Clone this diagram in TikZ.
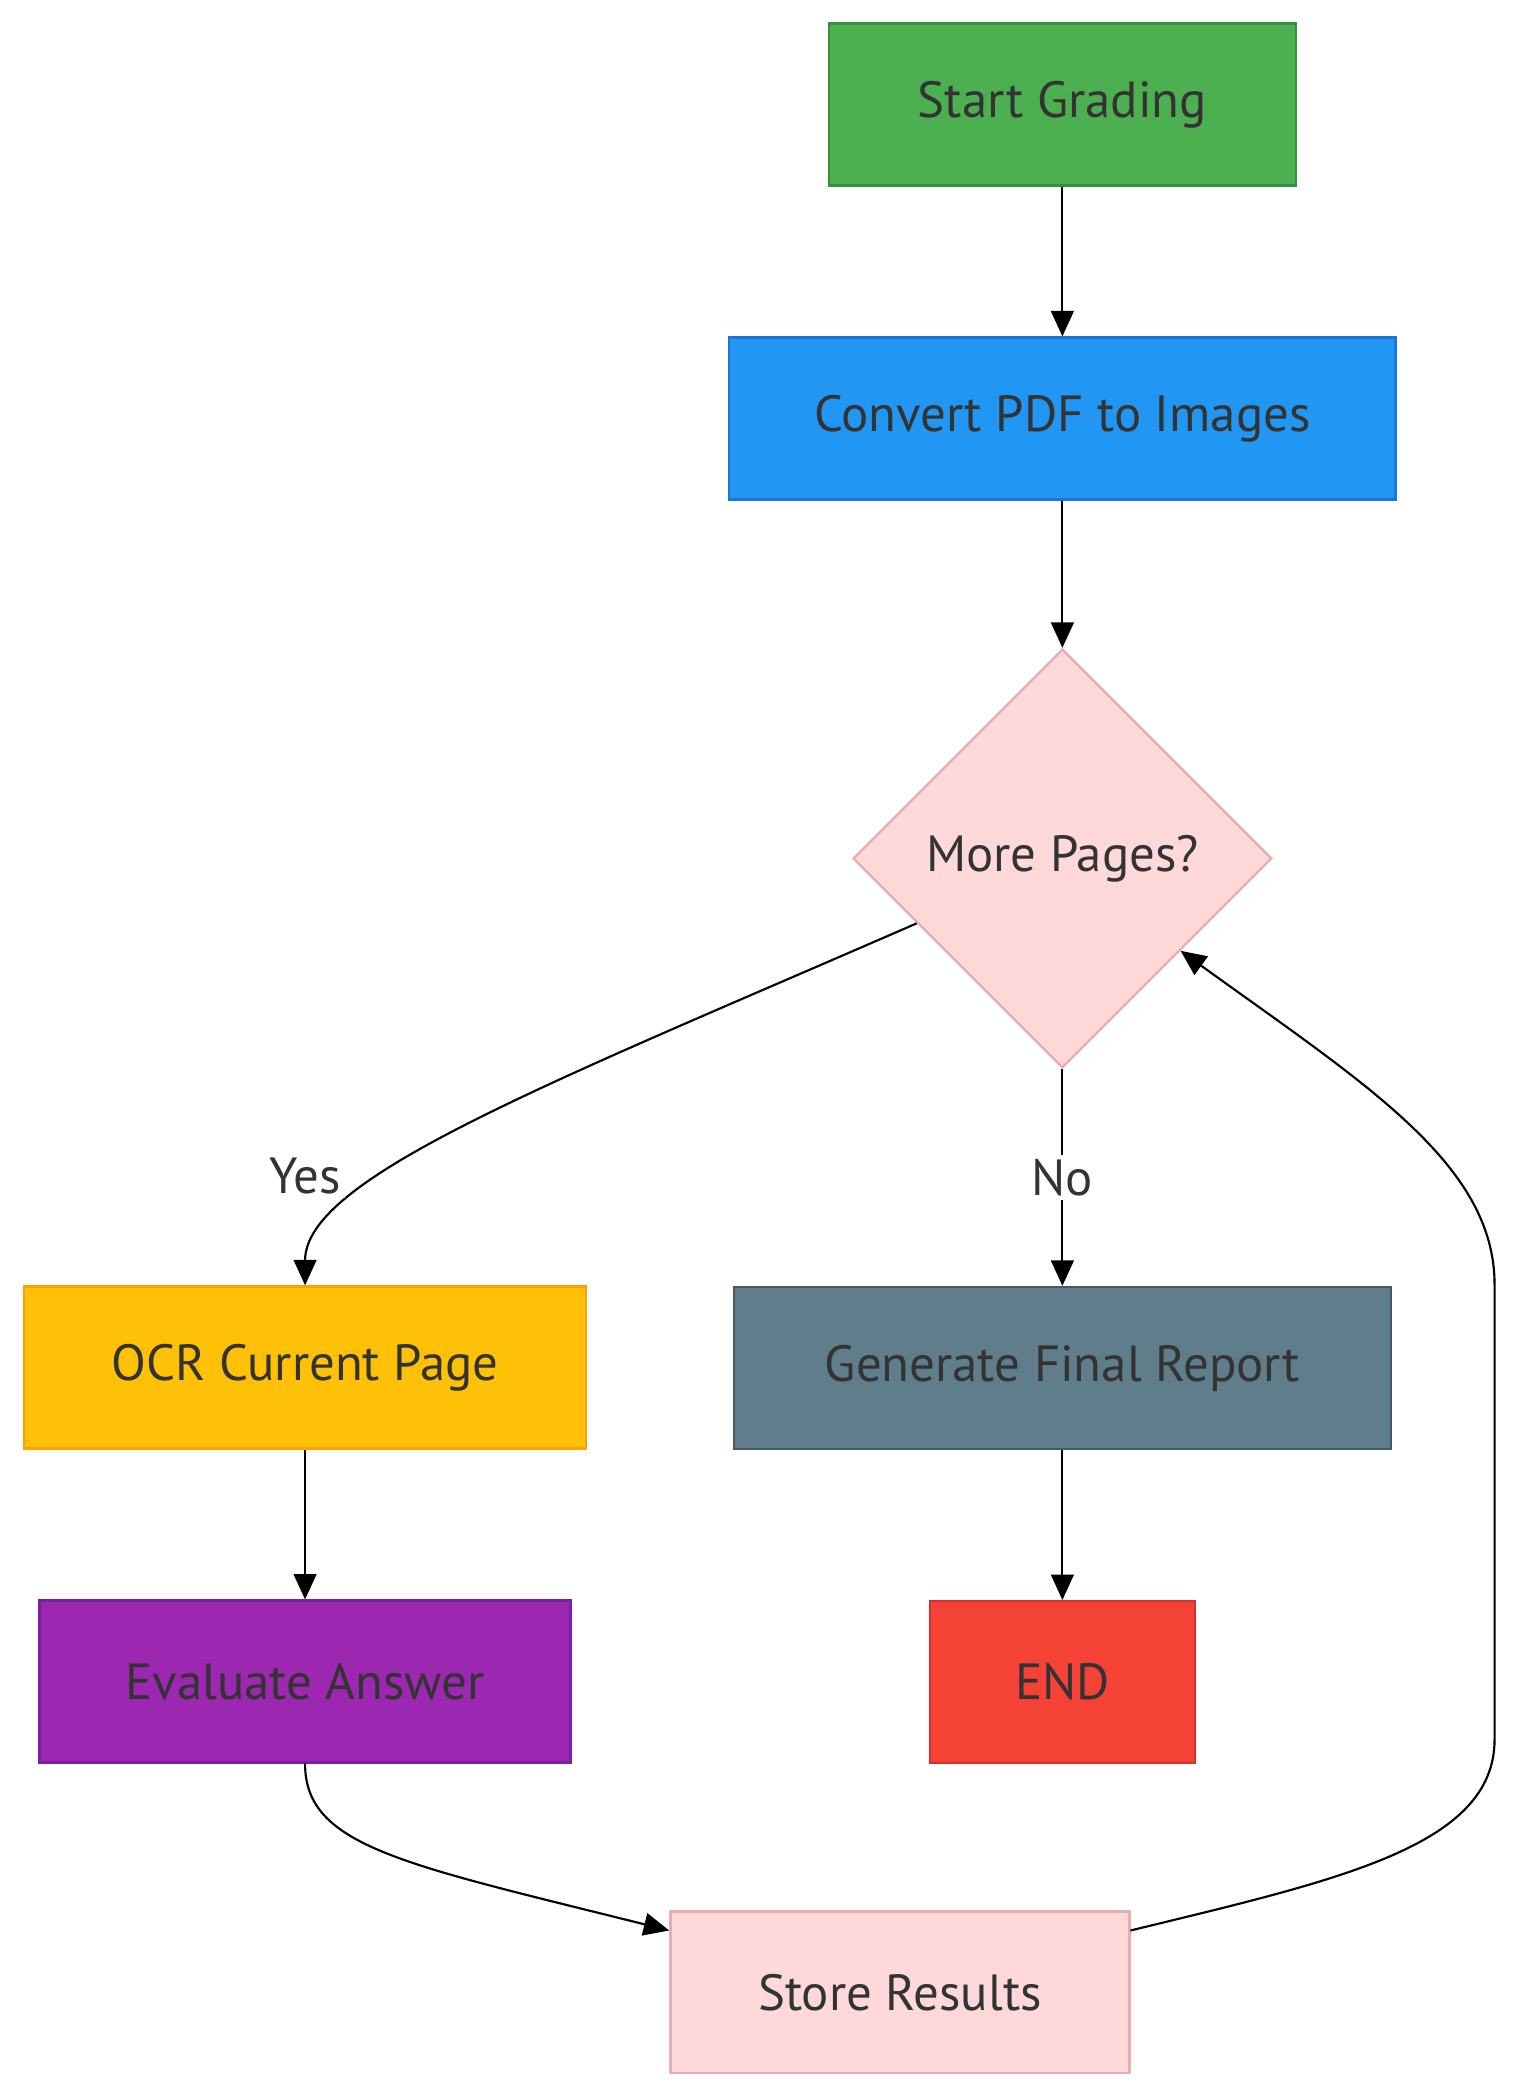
\documentclass[tikz,border=0pt]{standalone}
\usepackage{fontspec}
\setmainfont{PT Sans}
\usetikzlibrary{shapes.geometric, arrows.meta, positioning}

\definecolor{txtgray}{HTML}{333333}
\definecolor{greenfill}{HTML}{4CAF50}
\definecolor{greenline}{HTML}{388E3C}
\definecolor{bluefill}{HTML}{2196F3}
\definecolor{blueline}{HTML}{1976D2}
\definecolor{pinkfill}{HTML}{FFD9D9}
\definecolor{pinkline}{HTML}{E8AEAE}
\definecolor{amberfill}{HTML}{FFC107}
\definecolor{amberline}{HTML}{FFA000}
\definecolor{slatefill}{HTML}{607D8B}
\definecolor{slateline}{HTML}{455A64}
\definecolor{purplefill}{HTML}{9C27B0}
\definecolor{purpleline}{HTML}{7B1FA2}
\definecolor{redfill}{HTML}{F44336}
\definecolor{redline}{HTML}{D32F2F}

\begin{document}
\begin{tikzpicture}[
        x=0.5pt, y=-0.5pt,
        node distance=56pt,
        every node/.style={font=\fontsize{19}{22}\selectfont, text=txtgray},
        box/.style={rectangle, minimum height=60.5pt, text centered, line width=0.9pt},
        startbox/.style={box, minimum width=174.5pt, draw=greenline, fill=greenfill},
        convertbox/.style={box, minimum width=249pt, draw=blueline, fill=bluefill},
        decisionbox/.style={diamond, aspect=1, inner sep=0pt, minimum width=156.5pt, minimum height=156.5pt, text centered, line width=0.9pt, draw=pinkline, fill=pinkfill},
        ocrbox/.style={box, minimum width=210pt, draw=amberline, fill=amberfill},
        reportbox/.style={box, minimum width=245.5pt, draw=slateline, fill=slatefill},
        evalbox/.style={box, minimum width=198.5pt, draw=purpleline, fill=purplefill},
        endbox/.style={box, minimum width=99pt, draw=redline, fill=redfill},
        storebox/.style={box, minimum width=171.5pt, draw=pinkline, fill=pinkfill},
        arrow/.style={thick, -{Triangle[width=8.5pt, length=9.5pt]}},
        lbl/.style={fill=white, inner sep=1.5pt},
    ]
        \useasboundingbox (0,0) rectangle (1136,1568);

        % Main column
        \node (start) [startbox] at (794,78) {Start Grading};
        \node (convert) [convertbox, below=of start] {Convert PDF to Images};
        \node (pages) [decisionbox, below=55pt of convert] {More Pages?};
        \node (report) [reportbox, below=81pt of pages] {Generate Final Report};
        \node (finish) [endbox, below=of report] {END};

        % Left column - page loop
        \node (ocr) [ocrbox] at (228,1022) {OCR Current Page};
        \node (evaluate) [evalbox, below=of ocr] {Evaluate Answer};
        \node (store) [storebox] at (672.5,1489) {Store Results};

        % Straight connections
        \draw [arrow] (start) -- (convert);
        \draw [arrow] (convert) -- (pages);
        \draw [arrow] (pages) -- node[lbl] {No} (report);
        \draw [arrow] (report) -- (finish);
        \draw [arrow] (ocr) -- (evaluate);

        % Yes branch
        \draw [arrow] (pages.204) .. controls (410,810) and (228,880) .. (ocr.north);
        \node (yes) [lbl] at (228,879) {Yes};

        % Loop back
        \draw [arrow] (evaluate.south) .. controls (228,1380) and (301,1393) .. (store.165);
        \draw [arrow] (store.15) .. controls (1000,1405) and (1117,1380) .. (1117,1300)
            -- (1117,960) .. controls (1117,870) and (1020,810) .. (pages.-38);
    \end{tikzpicture}
\end{document}
